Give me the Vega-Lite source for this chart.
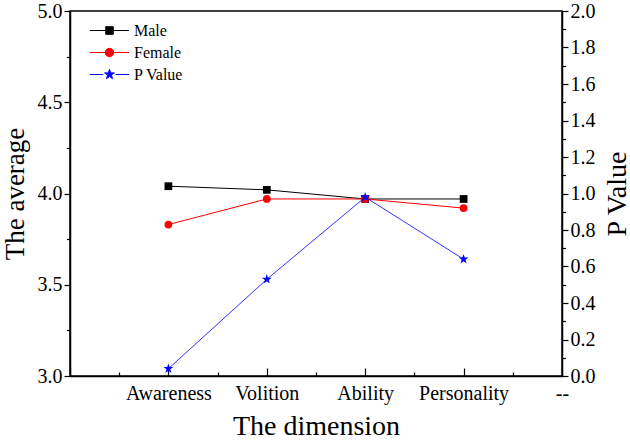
{
  "$schema": "https://vega.github.io/schema/vega-lite/v6.json",
  "width": 492,
  "height": 365,
  "autosize": {"type": "none"},
  "padding": {"left": 70, "top": 11, "right": 68, "bottom": 67},
  "config": {
    "view": {"stroke": "#000000", "strokeWidth": 1.5},
    "font": "Liberation Serif",
    "axis": {
      "domainColor": "#000000",
      "domainWidth": 1.5,
      "tickColor": "#000000",
      "tickWidth": 1.2,
      "labelFont": "Liberation Serif",
      "labelFontSize": 20,
      "labelColor": "#000000",
      "labelFlush": false,
      "labelOverlap": false,
      "titleFont": "Liberation Serif",
      "titleFontSize": 28,
      "titleFontWeight": "normal",
      "titleColor": "#000000",
      "grid": false
    }
  },
  "data": {
    "values": [
      {"dimension": "Awareness", "pos": 1, "series": "Male", "value": 4.04},
      {"dimension": "Volition", "pos": 2, "series": "Male", "value": 4.02},
      {"dimension": "Ability", "pos": 3, "series": "Male", "value": 3.97},
      {"dimension": "Personality", "pos": 4, "series": "Male", "value": 3.97},
      {"dimension": "Awareness", "pos": 1, "series": "Female", "value": 3.83},
      {"dimension": "Volition", "pos": 2, "series": "Female", "value": 3.97},
      {"dimension": "Ability", "pos": 3, "series": "Female", "value": 3.97},
      {"dimension": "Personality", "pos": 4, "series": "Female", "value": 3.92},
      {"dimension": "Awareness", "pos": 1, "series": "P Value", "value": 0.04},
      {"dimension": "Volition", "pos": 2, "series": "P Value", "value": 0.53},
      {"dimension": "Ability", "pos": 3, "series": "P Value", "value": 0.98},
      {"dimension": "Personality", "pos": 4, "series": "P Value", "value": 0.64}
    ]
  },
  "encoding": {
    "x": {
      "field": "pos",
      "type": "quantitative",
      "scale": {"domain": [0, 5], "nice": false, "zero": false},
      "axis": {
        "title": "The dimension",
        "values": [0, 0.5, 1, 1.5, 2, 2.5, 3, 3.5, 4, 4.5, 5],
        "labelExpr": "datum.value % 1 === 0 ? ['', 'Awareness', 'Volition', 'Ability', 'Personality', '--'][datum.value] : ''",
        "tickSize": {"condition": {"test": "datum.value % 1 === 0", "value": -8}, "value": -4},
        "labelPadding": 15,
        "titlePadding": 5
      }
    },
    "color": {
      "field": "series",
      "type": "nominal",
      "scale": {"domain": ["Male", "Female", "P Value"], "range": ["#000000", "#ff0000", "#0000ff"]},
      "legend": {
        "orient": "none",
        "legendX": 29,
        "legendY": 9,
        "title": null,
        "padding": 0,
        "symbolSize": 400,
        "labelFont": "Liberation Serif",
        "labelFontSize": 16,
        "labelColor": "#000000",
        "labelOffset": 14,
        "rowPadding": 3,
        "encode": {
          "symbols": {
            "update": {
              "shape": {"signal": "datum.value === 'Male' ? 'M-1.95,0H1.95M-0.38,-0.38H0.38V0.38H-0.38Z' : datum.value === 'Female' ? 'M-1.95,0H1.95M0.42,0A0.42,0.42 0 1,1 -0.42,0A0.42,0.42 0 1,1 0.42,0Z' : 'M-1.95,0H-0.62M0.62,0H1.95M0,-0.52L0.117,-0.161L0.494,-0.161L0.189,0.061L0.306,0.421L0,0.199L-0.306,0.421L-0.189,0.061L-0.494,-0.161L-0.117,-0.161Z'"},
              "fill": {"signal": "scale('color', datum.value)"},
              "stroke": {"signal": "scale('color', datum.value)"},
              "strokeWidth": {"value": 1},
              "opacity": {"value": 1},
              "size": {"value": 400}
            }
          }
        }
      }
    }
  },
  "layer": [
    {
      "transform": [{"filter": "datum.series !== 'P Value'"}],
      "encoding": {
        "y": {
          "field": "value",
          "type": "quantitative",
          "scale": {"domain": [3, 5], "nice": false, "zero": false},
          "axis": {
            "title": "The average",
            "titleFontSize": 27,
            "values": [3, 3.25, 3.5, 3.75, 4, 4.25, 4.5, 4.75, 5],
            "labelExpr": "datum.value * 2 % 1 === 0 ? format(datum.value, '.1f') : ''",
            "tickSize": {"condition": {"test": "datum.value * 2 % 1 === 0", "value": 6}, "value": 3.5},
            "labelPadding": 2,
            "titlePadding": 8
          }
        }
      },
      "layer": [
        {"mark": {"type": "line", "strokeWidth": 1}},
        {
          "mark": {"type": "point", "filled": true, "opacity": 1, "size": 60},
          "encoding": {
            "shape": {
              "field": "series",
              "type": "nominal",
              "scale": {"domain": ["Male", "Female"], "range": ["square", "circle"]},
              "legend": null
            }
          }
        }
      ]
    },
    {
      "transform": [{"filter": "datum.series === 'P Value'"}],
      "encoding": {
        "y": {
          "field": "value",
          "type": "quantitative",
          "scale": {"domain": [0, 2], "nice": false, "zero": false},
          "axis": {
            "orient": "right",
            "title": "P Value",
            "titleAngle": 270,
            "titleBaseline": "top",
            "values": [0, 0.1, 0.2, 0.3, 0.4, 0.5, 0.6, 0.7, 0.8, 0.9, 1, 1.1, 1.2, 1.3, 1.4, 1.5, 1.6, 1.7, 1.8, 1.9, 2],
            "labelExpr": "round(datum.value * 10) % 2 === 0 ? format(datum.value, '.1f') : ''",
            "tickSize": {"condition": {"test": "round(datum.value * 10) % 2 === 0", "value": 6}, "value": 3.5},
            "labelPadding": 2,
            "titlePadding": 8
          }
        }
      },
      "layer": [
        {"mark": {"type": "line", "strokeWidth": 0.8}},
        {
          "mark": {"type": "point", "filled": true, "opacity": 1, "size": 110, "shape": "M0,-1L0.225,-0.309L0.951,-0.309L0.363,0.118L0.588,0.809L0,0.382L-0.588,0.809L-0.363,0.118L-0.951,-0.309L-0.225,-0.309Z"}
        }
      ]
    }
  ],
  "resolve": {"scale": {"y": "independent"}}
}
